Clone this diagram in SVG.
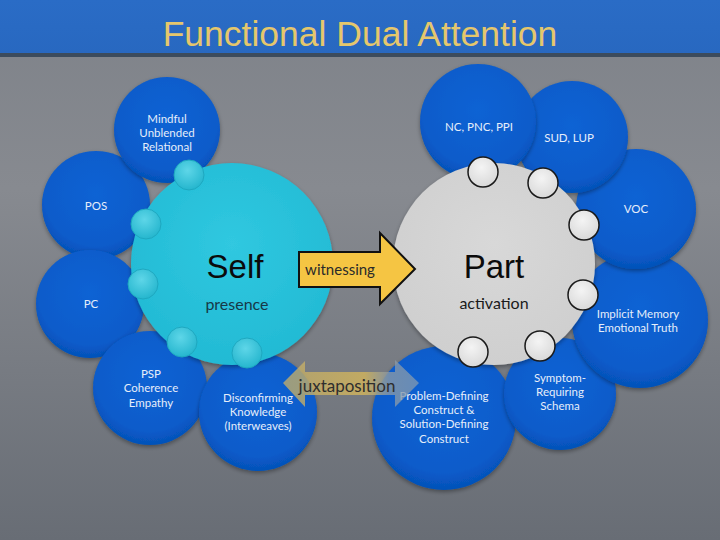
<svg xmlns="http://www.w3.org/2000/svg" width="720" height="540" viewBox="0 0 720 540">
<defs>
<linearGradient id="bg" x1="0" y1="0" x2="0" y2="1">
<stop offset="0" stop-color="#7e8289"/>
<stop offset="0.35" stop-color="#878a90"/>
<stop offset="1" stop-color="#686d75"/>
</linearGradient>
<linearGradient id="bar" x1="0" y1="0" x2="0" y2="1">
<stop offset="0" stop-color="#2a6cc6"/>
<stop offset="1" stop-color="#2868c0"/>
</linearGradient>
<radialGradient id="blue" cx="0.5" cy="0.4" r="0.6">
<stop offset="0" stop-color="#0e63d4"/>
<stop offset="0.8" stop-color="#095bca"/>
<stop offset="1" stop-color="#0551b8"/>
</radialGradient>
<radialGradient id="cyan" cx="0.5" cy="0.4" r="0.6">
<stop offset="0" stop-color="#30c8e0"/>
<stop offset="1" stop-color="#22bad4"/>
</radialGradient>
<radialGradient id="gray" cx="0.5" cy="0.4" r="0.6">
<stop offset="0" stop-color="#d8d8d8"/>
<stop offset="1" stop-color="#cfcfcf"/>
</radialGradient>
<radialGradient id="cb" cx="0.45" cy="0.35" r="0.65">
<stop offset="0" stop-color="#5ed6e8"/>
<stop offset="1" stop-color="#25b6ce"/>
</radialGradient>
<radialGradient id="wb" cx="0.45" cy="0.35" r="0.65">
<stop offset="0" stop-color="#f4f4f4"/>
<stop offset="1" stop-color="#d9d9d9"/>
</radialGradient>
<linearGradient id="jux" x1="0" y1="0" x2="1" y2="0">
<stop offset="0" stop-color="#c2ad6a"/>
<stop offset="0.6" stop-color="#d6b75a"/>
<stop offset="0.78" stop-color="#8c9aa6"/>
<stop offset="1" stop-color="#7f98b2"/>
</linearGradient>
<filter id="sh" x="-20%" y="-20%" width="140%" height="140%">
<feGaussianBlur in="SourceAlpha" stdDeviation="2"/>
<feOffset dx="0" dy="2"/>
<feComponentTransfer><feFuncA type="linear" slope="0.35"/></feComponentTransfer>
<feMerge><feMergeNode/><feMergeNode in="SourceGraphic"/></feMerge>
</filter>
</defs>
<style>
.b{fill:url(#blue);filter:url(#sh)}
.bt{font-family:Lato,"Liberation Sans",sans-serif;font-size:11.5px;fill:#e6eefa;text-anchor:middle}
.cb{fill:url(#cb);stroke:#1ea8c0;stroke-width:1}
.wb{fill:url(#wb);stroke:#1a1a1a;stroke-width:1.5}
.big{font-family:"Liberation Sans",Arial,sans-serif;font-size:33px;text-anchor:middle}
.sub{font-family:Lato,"Liberation Sans",sans-serif;font-size:16px;text-anchor:middle}
</style>
<rect width="720" height="540" fill="url(#bg)"/>
<rect width="720" height="54" fill="url(#bar)"/>
<rect y="53" width="720" height="4" fill="#3c4b5c"/>
<text x="360" y="46" font-family="'Liberation Sans',Arial,sans-serif" font-size="35.5" fill="#e5c76c" text-anchor="middle">Functional Dual Attention</text>

<g id="pos"><circle class="b" cx="96" cy="205" r="54"/><text class="bt" x="96" y="210">POS</text></g>
<g id="pc"><circle class="b" cx="90" cy="304" r="54"/><text class="bt" x="91" y="308">PC</text></g>
<g id="mindful"><circle class="b" cx="167" cy="130" r="53"/><text class="bt" x="167" y="123">Mindful</text><text class="bt" x="167" y="137">Unblended</text><text class="bt" x="167" y="151">Relational</text></g>
<g id="psp"><circle class="b" cx="150" cy="388" r="57"/><text class="bt" x="151" y="378">PSP</text><text class="bt" x="151" y="392">Coherence</text><text class="bt" x="151" y="407">Empathy</text></g>
<g id="disconfirming"><circle class="b" cx="258" cy="412" r="59"/><text class="bt" x="258" y="402">Disconfirming</text><text class="bt" x="258" y="416">Knowledge</text><text class="bt" x="258" y="430">(Interweaves)</text></g>

<g id="self">
<circle cx="232" cy="264" r="101" fill="url(#cyan)" filter="url(#sh)"/>
<text class="big" x="235" y="278" fill="#0b0b0b">Self</text>
<text class="sub" x="237" y="310" fill="#173847">presence</text>
<circle class="cb" cx="189" cy="175" r="15"/>
<circle class="cb" cx="146" cy="224" r="15"/>
<circle class="cb" cx="143" cy="284" r="15"/>
<circle class="cb" cx="182" cy="342" r="15"/>
<circle class="cb" cx="247" cy="353" r="15"/>
</g>

<g id="problem"><circle class="b" cx="444" cy="418" r="72"/><text class="bt" x="444" y="400">Problem-Defining</text><text class="bt" x="444" y="414">Construct &amp;</text><text class="bt" x="444" y="428">Solution-Defining</text><text class="bt" x="444" y="443">Construct</text></g>
<g id="symptom"><circle class="b" cx="560" cy="394" r="56"/><text class="bt" x="560" y="382">Symptom-</text><text class="bt" x="560" y="396">Requiring</text><text class="bt" x="560" y="410">Schema</text></g>
<g id="implicit"><circle class="b" cx="640" cy="320" r="68"/><text class="bt" x="638" y="318">Implicit Memory</text><text class="bt" x="638" y="332">Emotional Truth</text></g>
<g id="voc"><circle class="b" cx="636" cy="209" r="60"/><text class="bt" x="636" y="213">VOC</text></g>
<g id="sud"><circle class="b" cx="572" cy="137" r="56"/><text class="bt" x="569" y="142">SUD, LUP</text></g>
<g id="nc"><circle class="b" cx="478" cy="122" r="58"/><text class="bt" x="479" y="131">NC, PNC, PPI</text></g>

<g id="part">
<circle cx="494" cy="264" r="101" fill="url(#gray)" filter="url(#sh)"/>
<text class="big" x="494" y="278" fill="#0b0b0b">Part</text>
<text class="sub" x="494" y="309" fill="#1a1a1a">activation</text>
<circle class="wb" cx="483" cy="172" r="15"/>
<circle class="wb" cx="543" cy="183" r="15"/>
<circle class="wb" cx="584" cy="225" r="15"/>
<circle class="wb" cx="583" cy="295" r="15"/>
<circle class="wb" cx="540" cy="346" r="15"/>
<circle class="wb" cx="473" cy="352" r="15"/>
</g>

<g id="connectors">
<g id="witnessing">
<path d="M299,252 H380 V233 L415,269 L380,304 V287 H299 Z" fill="#f5c543" stroke="#111" stroke-width="2" stroke-linejoin="miter"/>
<text x="340" y="275" font-family="Lato,'Liberation Sans',sans-serif" font-size="15" fill="#2a2a2a" text-anchor="middle">witnessing</text>
</g>
<g id="juxtaposition">
<path d="M283,383 L305,361 V372 H395 V360 L419,383 L395,407 V395 H305 V407 Z" fill="url(#jux)" opacity="0.78"/>
<text x="347" y="392" font-family="Lato,'Liberation Sans',sans-serif" font-size="17" fill="#2e2e2e" text-anchor="middle">juxtaposition</text>
</g>
</g>
</svg>
